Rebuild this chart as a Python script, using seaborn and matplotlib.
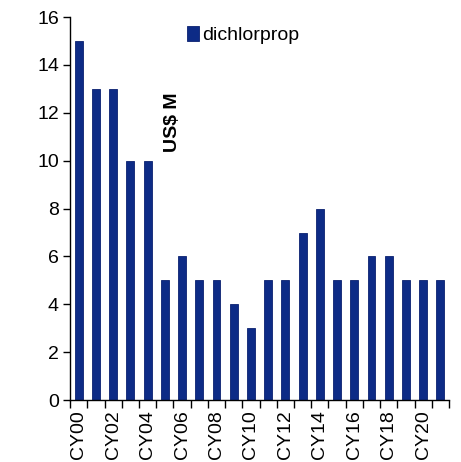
import matplotlib
matplotlib.use("Agg")
import matplotlib.pyplot as plt
import seaborn as sns
import pandas as pd
import numpy as np

years = [f"CY{i:02d}" for i in range(22)]
values = [15, 13, 13, 10, 10, 5, 6, 5, 5, 4, 3, 5, 5, 7, 8, 5, 5, 6, 6, 5, 5, 5]
series_name = "dichlorprop"
unit_label = "US$ M"

sns.set_theme(style="white")
plt.rcParams["font.family"] = ["Liberation Sans", "DejaVu Sans"]
plt.rcParams["text.color"] = "black"
plt.rcParams["xtick.color"] = "black"
plt.rcParams["ytick.color"] = "black"

df = pd.DataFrame({"year": years, "value": values, "series": series_name})

fig = plt.figure(figsize=(4.61, 4.62), dpi=100)
ax = fig.add_axes([0.152, 0.134, 0.822, 0.829])

sns.barplot(data=df, x="year", y="value", hue="series", ax=ax,
            palette=["#0d2b86"], width=0.46, edgecolor="#0a2170",
            linewidth=0.6, saturation=1, legend=True)

ax.set_ylim(0, 16)
ax.set_yticks(np.arange(0, 17, 2))
ax.set_xlim(-0.5, len(years) - 0.5)

# boundary ticks between categories, labels every other year
ax.set_xticks(np.arange(len(years) + 1) - 0.5)
ax.set_xticklabels([])
ax.set_xticks(np.arange(0, len(years), 2), minor=True)
ax.set_xticklabels(years[::2], minor=True, rotation=90, fontsize=14)
ax.tick_params(axis="x", which="major", direction="out", length=6, width=1, color="black", bottom=True)
ax.tick_params(axis="x", which="minor", length=0, pad=7)
ax.tick_params(axis="y", direction="out", length=5, width=1, color="black", left=True, labelsize=14, pad=3)

for s in ["top", "right"]:
    ax.spines[s].set_visible(False)
for s in ["left", "bottom"]:
    ax.spines[s].set_color("black")
    ax.spines[s].set_linewidth(1)

ax.set_xlabel("")
ax.set_ylabel("")

ax.text(0.27, 0.725, unit_label, transform=ax.transAxes, rotation=90,
        fontsize=14, fontweight="bold", ha="center", va="center")

leg = ax.legend(loc="upper left", bbox_to_anchor=(0.283, 1.003), frameon=False,
                fontsize=14, handlelength=0.6, handleheight=0.8,
                handletextpad=0.2, borderaxespad=0.1)

fig.savefig("out.png", dpi=100)
